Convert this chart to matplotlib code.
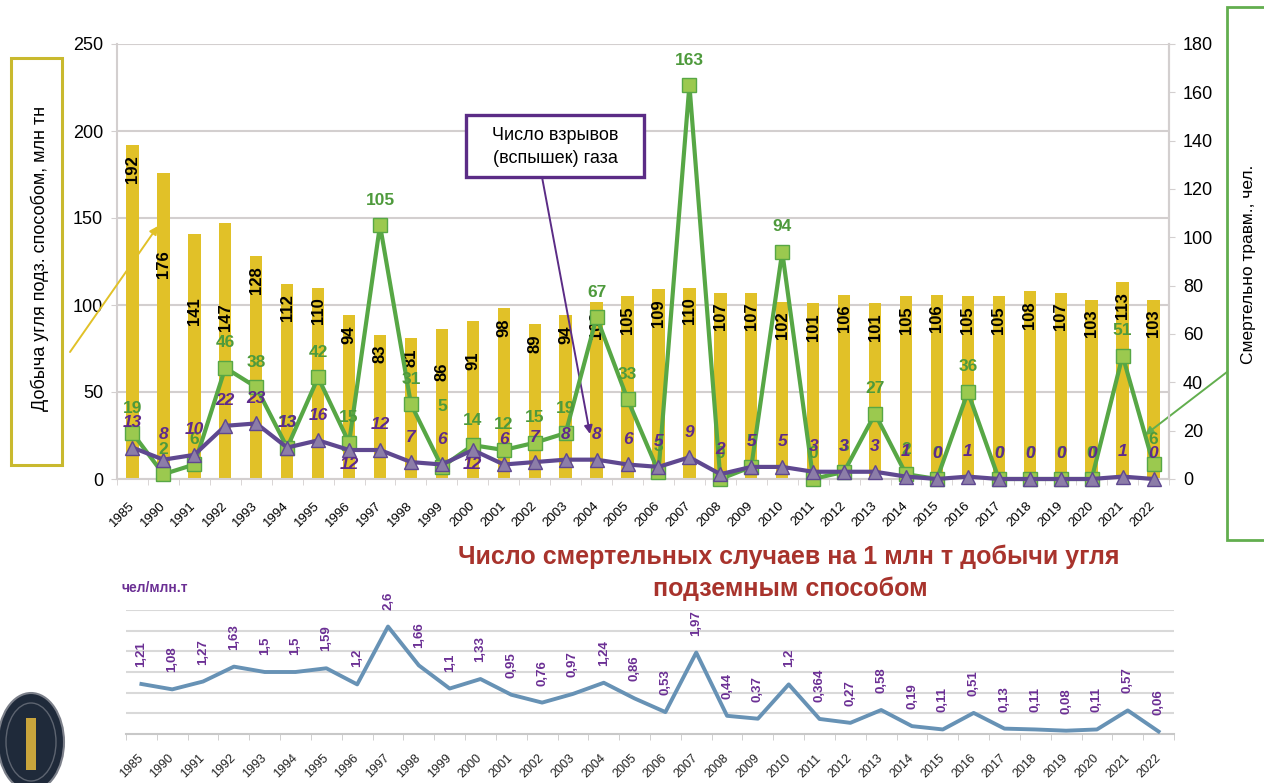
import matplotlib
matplotlib.use('Agg')
import matplotlib.pyplot as plt
from matplotlib.patches import Rectangle, Ellipse
import numpy as np

plt.rcParams['font.family'] = ['Liberation Sans', 'DejaVu Sans']

years = ['1985', '1990', '1991', '1992', '1993', '1994', '1995', '1996', '1997', '1998',
         '1999', '2000', '2001', '2002', '2003', '2004', '2005', '2006', '2007', '2008',
         '2009', '2010', '2011', '2012', '2013', '2014', '2015', '2016', '2017', '2018',
         '2019', '2020', '2021', '2022']
production = [192, 176, 141, 147, 128, 112, 110, 94, 83, 81, 86, 91, 98, 89, 94, 102, 105,
              109, 110, 107, 107, 102, 101, 106, 101, 105, 106, 105, 105, 108, 107, 103, 113, 103]
deaths = [19, 2, 6, 46, 38, 13, 42, 15, 105, 31, 5, 14, 12, 15, 19, 67, 33, 3, 163, 0, 5, 94,
          0, 3, 27, 2, 0, 36, 0, 0, 0, 0, 51, 6]
explosions = [13, 8, 10, 22, 23, 13, 16, 12, 12, 7, 6, 12, 6, 7, 8, 8, 6, 5, 9, 2, 5, 5, 3, 3,
              3, 1, 0, 1, 0, 0, 0, 0, 1, 0]
rate = [1.21, 1.08, 1.27, 1.63, 1.5, 1.5, 1.59, 1.2, 2.6, 1.66, 1.1, 1.33, 0.95, 0.76, 0.97,
        1.24, 0.86, 0.53, 1.97, 0.44, 0.37, 1.2, 0.364, 0.27, 0.58, 0.19, 0.11, 0.51, 0.13,
        0.11, 0.08, 0.11, 0.57, 0.06]

# hand-placed labels in the original
bar_label_drop = {'1990': 77, '1991': 64, '1992': 80, '1999': 33, '2000': 31}
death_label_rise = {'1999': 60}
expl_label_below = ['1996', '2000']

W, H = 1264, 783


def F(x, y):
    return (x / W, 1 - y / H)


GOLD = '#E1C128'
GREEN = '#57A745'
GREEN_FACE = '#9BC94F'
GREEN_TXT = '#4E9A3C'
PURPLE = '#5F4890'
PURPLE_FACE = '#8C7DA8'
PURPLE_TXT = '#5E2A8C'
GRID = '#D3CFCF'

fig = plt.figure(figsize=(W / 100, H / 100), dpi=100)
fig.patch.set_facecolor('white')

# ---- top chart ----
ax = fig.add_axes([117 / W, 1 - 479 / H, (1169 - 117) / W, (479 - 44) / H])
x = np.arange(len(years))
ax.bar(x, production, width=0.4, color=GOLD, zorder=2)
ax.set_xlim(-0.5, len(years) - 0.5)
ax.set_ylim(0, 250)
ax.set_yticks(np.arange(0, 251, 50))
ax.grid(axis='y', color=GRID, lw=1.5, zorder=0)
ax.set_axisbelow(True)
ax.tick_params(axis='y', labelsize=13, length=4, color=GRID, pad=6)
ax.set_xticks(x)
ax.set_xticklabels(years, rotation=45, ha='right', va='center', rotation_mode='anchor',
                   fontsize=9.5)
ax.tick_params(axis='x', length=0, pad=18)
ax.set_xticks(np.arange(-0.5, len(years), 1), minor=True)
ax.tick_params(axis='x', which='minor', length=4, color=GRID)
ax.spines['top'].set_visible(False)
for s in ['left', 'bottom', 'right']:
    ax.spines[s].set_color(GRID)
    ax.spines[s].set_linewidth(1.5)

for i, (yr, v) in enumerate(zip(years, production)):
    ax.annotate(str(v), (i, v), xytext=(0, -bar_label_drop.get(yr, 10)),
                textcoords='offset pixels', rotation=90, ha='center', va='top',
                fontsize=12, fontweight='bold', color='black', zorder=5)

ax2 = ax.twinx()
ax2.set_ylim(0, 180)
ax2.set_yticks(np.arange(0, 181, 20))
ax2.tick_params(axis='y', labelsize=13, length=4, color=GRID, pad=6)
for s in ['top', 'left', 'bottom']:
    ax2.spines[s].set_visible(False)
ax2.spines['right'].set_color(GRID)
ax2.spines['right'].set_linewidth(1.5)

ax2.plot(x, deaths, color=GREEN, lw=3, marker='s', ms=9.5, mfc=GREEN_FACE,
         mec=GREEN, mew=1, zorder=3, clip_on=False)
ax2.plot(x, explosions, color=PURPLE, lw=3, marker='^', ms=10.5, mfc=PURPLE_FACE,
         mec=PURPLE, mew=1, zorder=4, clip_on=False)

for i, (yr, v) in enumerate(zip(years, deaths)):
    ax2.annotate(str(v), (i, v), xytext=(0, death_label_rise.get(yr, 25)),
                 textcoords='offset pixels', ha='center', va='center',
                 fontsize=12.5, fontweight='bold', color=GREEN_TXT, zorder=6)
for i, (yr, v) in enumerate(zip(years, explosions)):
    dy = -15 if yr in expl_label_below else 25
    ax2.annotate(str(v), (i, v), xytext=(0, dy), textcoords='offset pixels',
                 ha='center', va='center', fontsize=12.5, fontweight='bold',
                 style='italic', color=PURPLE_TXT, zorder=7)

# ---- callout boxes ----
def box(x0, y0, x1, y1, color, lw):
    r = Rectangle(F(x0, y1), (x1 - x0) / W, (y1 - y0) / H, transform=fig.transFigure,
                  facecolor='white', edgecolor=color, lw=lw, zorder=10)
    fig.add_artist(r)


def arrow(xs, ys, xe, ye, color):
    ax.annotate('', xy=F(xe, ye), xycoords='figure fraction', xytext=F(xs, ys),
                textcoords='figure fraction', annotation_clip=False, zorder=11,
                arrowprops=dict(arrowstyle='-|>', color=color, lw=1.4, mutation_scale=12,
                                shrinkA=0, shrinkB=0))


box(11, 58, 62, 465, '#C9B92E', 2.2)
fig.text(*F(40, 258), 'Добыча угля подз. способом, млн тн', rotation=90, ha='center',
         va='center', fontsize=13, zorder=12)
arrow(70, 352, 158, 226, '#E1C128')

box(1227, 7, 1275, 540, '#62AE4E', 2.0)
fig.text(*F(1249, 264), 'Смертельно травм., чел.', rotation=90, ha='center',
         va='center', fontsize=12.5, zorder=12)
arrow(1227, 372, 1145, 435, '#62AE4E')

box(466, 115, 644, 177, '#5B2C86', 2.4)
fig.text(*F(555, 147), 'Число взрывов\n(вспышек) газа', ha='center', va='center',
         fontsize=13, linespacing=1.4, zorder=12)
arrow(542, 177, 590, 434, '#5B2C86')

# ---- bottom chart ----
fig.text(*F(789, 557), 'Число смертельных случаев на 1 млн т добычи угля', ha='center',
         va='center', fontsize=18, fontweight='bold', color='#A8332C')
fig.text(*F(790, 589), 'подземным способом', ha='center', va='center', fontsize=18,
         fontweight='bold', color='#A8332C')
fig.text(*F(122, 588), 'чел/млн.т', ha='left', va='center', fontsize=10,
         fontweight='bold', color='#6B2F94')

ax3 = fig.add_axes([126 / W, 1 - 734 / H, (1174 - 126) / W, (734 - 610) / H])
ax3.plot(x, rate, color='#6792B5', lw=2.8, zorder=3, clip_on=False)
ax3.set_xlim(-0.5, len(years) - 0.5)
ax3.set_ylim(0, 3)
ax3.set_yticks(np.arange(0.5, 3.01, 0.5))
ax3.set_yticklabels([])
ax3.tick_params(axis='y', length=0)
ax3.grid(axis='y', color='#D9D9D9', lw=1.5, zorder=0)
ax3.set_xticks(x)
ax3.set_xticklabels(years, rotation=45, ha='right', va='center', rotation_mode='anchor',
                    fontsize=9, color='#222222')
ax3.tick_params(axis='x', length=0, pad=16)
ax3.set_xticks(np.arange(-0.5, len(years), 1), minor=True)
ax3.tick_params(axis='x', which='minor', length=4, color='#C8C8C8')
for s in ['top', 'left', 'right']:
    ax3.spines[s].set_visible(False)
ax3.spines['bottom'].set_color('#C8C8C8')
ax3.spines['bottom'].set_linewidth(1.5)
for i, v in enumerate(rate):
    ax3.annotate(f'{v:g}'.replace('.', ','), (i, v), xytext=(0, 17),
                 textcoords='offset pixels', rotation=90, ha='center', va='bottom',
                 fontsize=9.5, fontweight='bold', color='#6B2F94', annotation_clip=False)

# ---- emblem ----
fig.add_artist(Ellipse(F(31, 742), 66 / W, 98 / H, transform=fig.transFigure,
                       facecolor='#1F2A3A', edgecolor='#7C808A', lw=1.5))
fig.add_artist(Ellipse(F(31, 742), 50 / W, 78 / H, transform=fig.transFigure,
                       facecolor='none', edgecolor='#5D6470', lw=1))
fig.add_artist(Rectangle(F(26, 770), 10 / W, 52 / H, transform=fig.transFigure,
                         facecolor='#C9A53C', edgecolor='none'))

fig.savefig('out.png', dpi=100)
